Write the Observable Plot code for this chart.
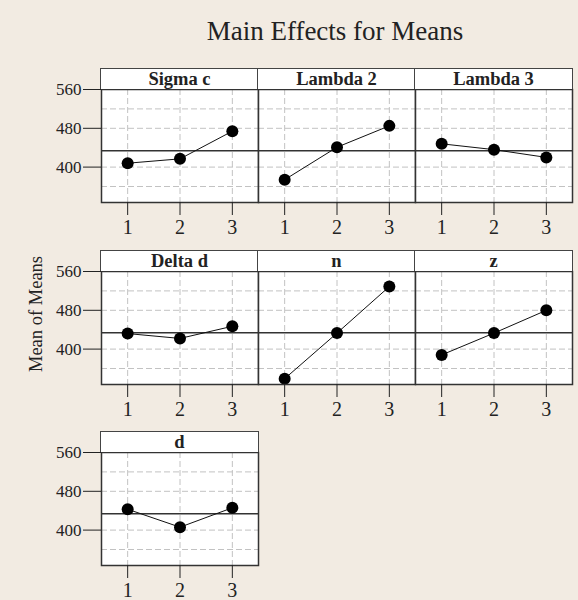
<!DOCTYPE html>
<html>
<head>
<meta charset="utf-8">
<script src="https://cdn.jsdelivr.net/npm/d3@7"></script>
<script src="https://cdn.jsdelivr.net/npm/@observablehq/plot@0.6"></script>
<style>
  html, body { margin: 0; padding: 0; background: #f2ebe2; }
  #wrap { position: relative; width: 578px; height: 600px; background: #f2ebe2; overflow: hidden; font-family: "Liberation Serif", "DejaVu Serif", serif; color: #222; }
  .abs { position: absolute; }
  .hdr { position: absolute; box-sizing: border-box; border: 1.5px solid #444; border-bottom: none; background: #fff; font-weight: bold; font-size: 18.5px; text-align: center; line-height: 21px; color: #222; }
  #title { left: 135px; top: 16px; width: 400px; text-align: center; font-size: 27px; line-height: 30px; }
  #ylab { left: 36px; top: 314px; font-size: 18.5px; white-space: nowrap; transform: translate(-50%, -50%) rotate(-90deg); }
</style>
</head>
<body>
<div id="wrap">
  <div id="title" class="abs"></div>
  <div id="ylab" class="abs"></div>
</div>
<script>
// ---- data ----
const title = "Main Effects for Means";
const yLabel = "Mean of Means";
const factors = ["Sigma c", "Lambda 2", "Lambda 3", "Delta d", "n", "z", "d"];
const levels = [1, 2, 3];
const sigmaC  = [408, 417, 474];
const lambda2 = [374, 441, 485];
const lambda3 = [448, 436, 420];
const deltaD  = [432, 422, 447];
const nVals   = [339, 433, 529];
const zVals   = [388, 433, 480];
const dVals   = [443, 406, 446];
const grandMean = 433.5;
const yTicks = [400, 480, 560];
const yGrid = [360, 400, 480, 520];
const yDomain = [327, 560];
const xDomain = [0.5, 3.5];

const series = [sigmaC, lambda2, lambda3, deltaD, nVals, zVals, dVals];

// ---- layout ----
const colLeft = [101, 258, 415];
const rowTop = [89, 271, 452];
const innerW = 157, innerH = 113, hdrH = 21;
const mL = 60, mR = 2, mT = 1, mB = 45;

const wrap = document.getElementById("wrap");
document.getElementById("title").textContent = title;
document.getElementById("ylab").textContent = yLabel;

factors.forEach((name, k) => {
  const col = k % 3, row = Math.floor(k / 3);
  const data = levels.map((l, i) => ({level: l, mean: series[k][i]}));
  const marks = [
    Plot.frame({fill: "white", stroke: null}),
    Plot.ruleX(levels, {stroke: "#c2c2c2", strokeDasharray: "6,3", strokeWidth: 1}),
    Plot.ruleY(yGrid, {stroke: "#c2c2c2", strokeDasharray: "6,3", strokeWidth: 1}),
    Plot.ruleY([grandMean], {stroke: "#333", strokeWidth: 1.5}),
    Plot.line(data, {x: "level", y: "mean", stroke: "#111", strokeWidth: 1}),
    Plot.dot(data, {x: "level", y: "mean", r: 6, fill: "#000", stroke: null}),
    Plot.frame({stroke: "#333", strokeWidth: 1.5}),
    Plot.axisX({ticks: levels, tickSize: 13, tickPadding: 4, fontSize: 20, label: null, tickFormat: d => String(d), stroke: "#222"})
  ];
  if (col === 0) {
    marks.push(Plot.axisY({ticks: yTicks, tickSize: 18, tickPadding: 2, fontSize: 17, label: null, stroke: "#222"}));
  }
  const chart = Plot.plot({
    width: innerW + mL + mR,
    height: innerH + mT + mB,
    marginLeft: mL, marginRight: mR, marginTop: mT, marginBottom: mB,
    x: {domain: xDomain, axis: null},
    y: {domain: yDomain, axis: null},
    style: {background: "none", fontFamily: "Liberation Serif", fontSize: "15px", color: "#222", overflow: "visible"},
    marks
  });
  chart.style.position = "absolute";
  chart.style.left = (colLeft[col] - mL) + "px";
  chart.style.top = (rowTop[row] - mT) + "px";
  wrap.appendChild(chart);

  const h = document.createElement("div");
  h.className = "hdr";
  h.textContent = name;
  h.style.left = (colLeft[col] - 0.75) + "px";
  h.style.top = (rowTop[row] - hdrH) + "px";
  h.style.width = (innerW + 1.5) + "px";
  h.style.height = hdrH + "px";
  wrap.appendChild(h);
});
</script>
</body>
</html>
